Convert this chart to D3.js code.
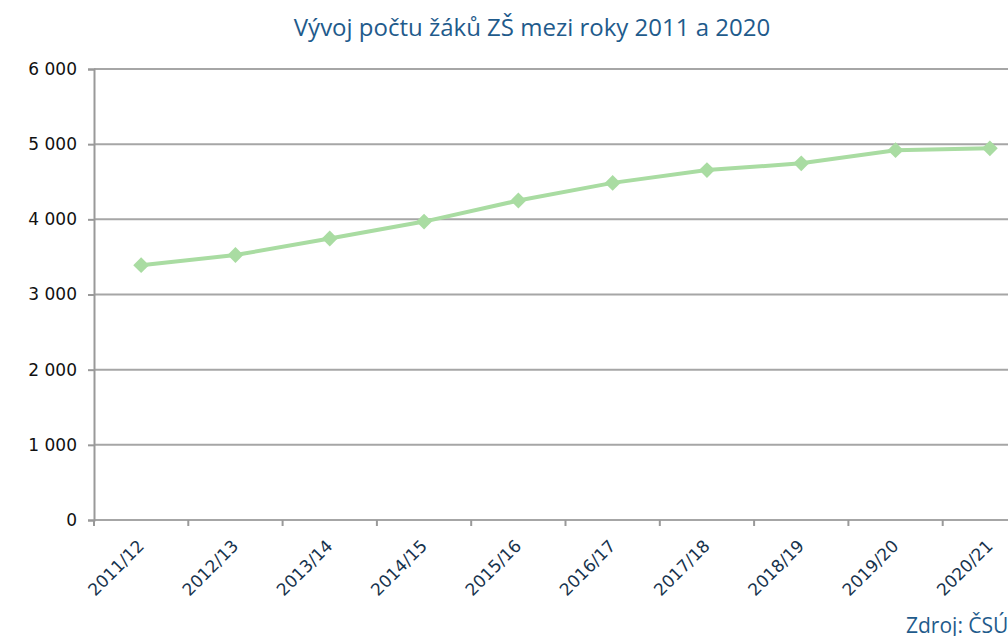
<!DOCTYPE html>
<html>
<head>
<meta charset="utf-8">
<script src="https://cdn.jsdelivr.net/npm/d3@7"></script>
<style>
  body { margin: 0; background: #fff; overflow: hidden; }
  svg { display: block; }
</style>
</head>
<body>
<div id="chart"></div>
<script>
var years = ["2011/12", "2012/13", "2013/14", "2014/15", "2015/16",
    "2016/17", "2017/18", "2018/19", "2019/20", "2020/21"];
var pupils = [3390, 3525, 3745, 3970, 4250, 4485, 4655, 4745, 4920, 4945];
var yTicks = [0, 1000, 2000, 3000, 4000, 5000, 6000];

var w = 1008, h = 636;
var mLeft = 94, mTop = 69, mBottom = 520, bandW = 94.3;

var x = d3.scaleBand()
    .domain(years)
    .range([mLeft, mLeft + bandW * years.length]);

var y = d3.scaleLinear()
    .domain([0, 6000])
    .range([mBottom, mTop]);

var fmt = function (d) {
    return d3.format(",")(d).replace(/,/g, " ");
};

var svg = d3.select("#chart")
    .append("svg")
    .attr("width", w)
    .attr("height", h);

// title
svg.append("text")
    .attr("x", 532)
    .attr("y", 36)
    .attr("text-anchor", "middle")
    .style("font-family", "'Open Sans', sans-serif")
    .style("font-size", "24px")
    .style("fill", "#1f5b8c")
    .text("Vývoj počtu žáků ZŠ mezi roky 2011 a 2020");

// gridlines
svg.append("g")
    .selectAll("line")
    .data(yTicks)
    .enter()
    .append("line")
    .attr("x1", mLeft)
    .attr("x2", w)
    .attr("y1", function (d) { return y(d); })
    .attr("y2", function (d) { return y(d); })
    .style("stroke", "#a6a6a6")
    .style("stroke-width", 2);

// y axis
var yAxis = svg.append("g")
    .attr("transform", "translate(" + mLeft + ",0)")
    .call(d3.axisLeft(y).tickValues(yTicks).tickFormat(fmt).tickSize(6).tickPadding(11));
yAxis.select(".domain").style("stroke", "#999").style("stroke-width", 2);
yAxis.selectAll(".tick line").style("stroke", "#999").style("stroke-width", 2);
yAxis.selectAll("text")
    .style("font-family", "'DejaVu Sans', sans-serif")
    .style("font-size", "17px")
    .style("fill", "#111");

// x axis: ticks at category boundaries
var xAxis = svg.append("g")
    .attr("transform", "translate(0," + mBottom + ")");
xAxis.selectAll("line")
    .data(years)
    .enter()
    .append("line")
    .attr("x1", function (d) { return x(d); })
    .attr("x2", function (d) { return x(d); })
    .attr("y1", 0)
    .attr("y2", 6)
    .style("stroke", "#999")
    .style("stroke-width", 2);
xAxis.selectAll("text")
    .data(years)
    .enter()
    .append("text")
    .attr("transform", function (d) {
        return "translate(" + (x(d) + x.bandwidth() / 2 + 4) + ",27) rotate(-45)";
    })
    .attr("text-anchor", "end")
    .style("font-family", "'DejaVu Sans', sans-serif")
    .style("font-size", "17px")
    .style("fill", "#17334d")
    .text(function (d) { return d; });

// line
var line = d3.line()
    .x(function (d, i) { return x(years[i]) + x.bandwidth() / 2; })
    .y(function (d) { return y(d); });

svg.append("path")
    .datum(pupils)
    .attr("d", line)
    .style("fill", "none")
    .style("stroke", "#a9dca2")
    .style("stroke-width", 4);

svg.append("g")
    .selectAll("path")
    .data(pupils)
    .enter()
    .append("path")
    .attr("transform", function (d, i) {
        return "translate(" + (x(years[i]) + x.bandwidth() / 2) + "," + y(d) + ")";
    })
    .attr("d", d3.symbol().type(d3.symbolDiamond2).size(160))
    .style("fill", "#a9dca2");

// source
svg.append("text")
    .attr("x", 906)
    .attr("y", 633)
    .style("font-family", "'Open Sans', sans-serif")
    .style("font-size", "21px")
    .style("fill", "#1f5b8c")
    .text("Zdroj: ČSÚ");
</script>
</body>
</html>
